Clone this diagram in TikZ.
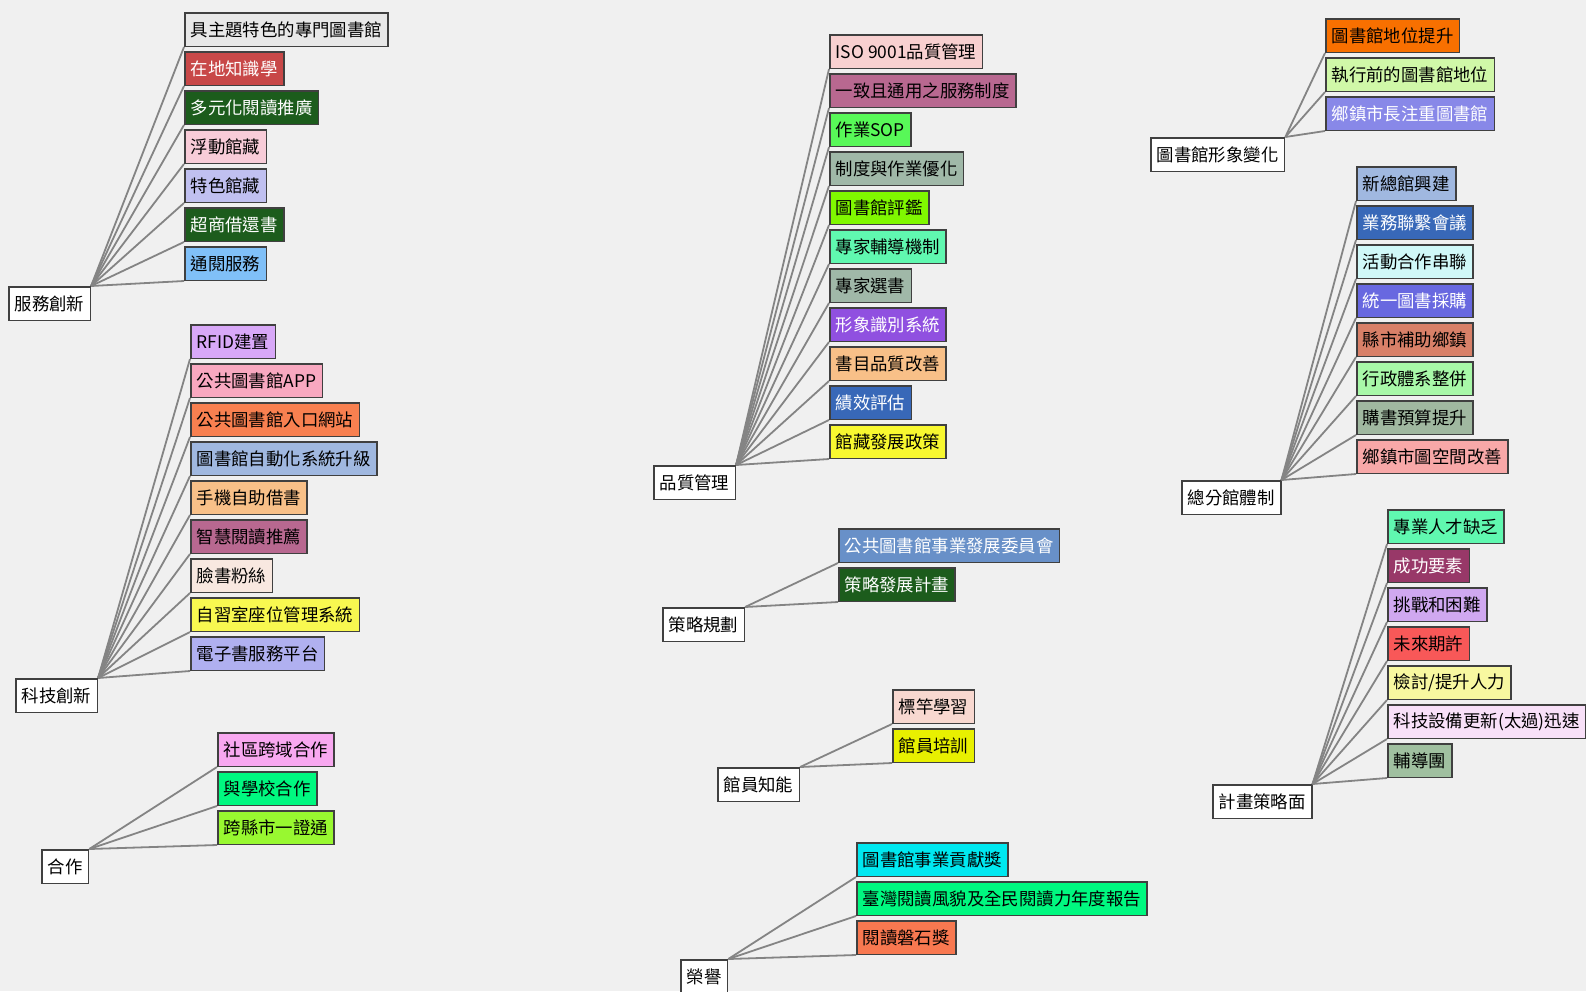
\documentclass[tikz,border=0pt]{standalone}
\usepackage{fontspec}
\usepackage{xcolor}
\usepackage{tikz}
\usetikzlibrary{positioning}
\newfontfamily\cjk{Noto Sans CJK TC}
\definecolor{pagebg}{HTML}{F0F0F0}
\definecolor{boxline}{HTML}{404040}
\definecolor{linkgray}{HTML}{848484}
\definecolor{greybox}{HTML}{E8E8E8}
\definecolor{brickred}{HTML}{C84848}
\definecolor{darkforest}{HTML}{1C5C1C}
\definecolor{blushpink}{HTML}{F8CCD8}
\definecolor{lavender}{HTML}{C0C0F0}
\definecolor{skyblue}{HTML}{80C0F8}
\definecolor{lilac}{HTML}{D8A8F8}
\definecolor{rosepink}{HTML}{F8A8C0}
\definecolor{coralorange}{HTML}{F88050}
\definecolor{steelblue}{HTML}{A0B8E0}
\definecolor{peach}{HTML}{F8C088}
\definecolor{mauve}{HTML}{B86890}
\definecolor{linen}{HTML}{F8E8E0}
\definecolor{lemon}{HTML}{F8F850}
\definecolor{periwinkle}{HTML}{B0B0F0}
\definecolor{orchid}{HTML}{F8A8F0}
\definecolor{springgreen}{HTML}{00F880}
\definecolor{limegreen}{HTML}{98F830}
\definecolor{palerose}{HTML}{F8D0D0}
\definecolor{mintgreen}{HTML}{58F858}
\definecolor{sage}{HTML}{A0B8A8}
\definecolor{chartreuse}{HTML}{80F800}
\definecolor{aquamarine}{HTML}{60F8B0}
\definecolor{amethyst}{HTML}{9050E0}
\definecolor{royalblue}{HTML}{3868B8}
\definecolor{canary}{HTML}{F8F830}
\definecolor{cornflower}{HTML}{6890C8}
\definecolor{shellpink}{HTML}{F8D8D0}
\definecolor{citron}{HTML}{E8F000}
\definecolor{aqua}{HTML}{00E8F0}
\definecolor{salmon}{HTML}{F87850}
\definecolor{tangerine}{HTML}{F87000}
\definecolor{palelime}{HTML}{D0F8A8}
\definecolor{slatepurple}{HTML}{8888E8}
\definecolor{icecyan}{HTML}{D0F8F8}
\definecolor{indigoblue}{HTML}{6868E0}
\definecolor{terracotta}{HTML}{D88068}
\definecolor{palegreen}{HTML}{A8F8A8}
\definecolor{greensage}{HTML}{A0B8A0}
\definecolor{pinksalmon}{HTML}{F8A8A8}
\definecolor{plum}{HTML}{983868}
\definecolor{thistle}{HTML}{D0A8F0}
\definecolor{tomato}{HTML}{F85858}
\definecolor{cream}{HTML}{F8F8A0}
\definecolor{blush}{HTML}{F8E0F8}
\definecolor{moss}{HTML}{A0C0A0}

\begin{document}
\begin{tikzpicture}[
  x=1pt,y=-1pt,
  topic/.style={draw=boxline,fill=white,line width=1.5pt,anchor=north west,minimum height=33.5pt,inner xsep=6pt,inner ysep=2pt,font=\cjk\fontsize{17.4pt}{19pt}\selectfont},
  item/.style={topic,fill=#1},
  itemw/.style={item=#1,text=white},
  under/.style={below=4pt of #1.south west,anchor=north west},
  link/.style={draw=linkgray,line width=1.8pt}
]
  \useasboundingbox (0,0) rectangle (1586,991);
  \clip (0,0) rectangle (1586,991);
  \fill[pagebg] (0,0) rectangle (1586,991);

  % 服務創新
  \node[topic] (svc) at (8,286) {服務創新};
  \node[item=greybox] (svc1) at (184,12) {具主題特色的專門圖書館};
  \node[itemw=brickred,under=svc1] (svc2) {在地知識學};
  \node[itemw=darkforest,under=svc2] (svc3) {多元化閱讀推廣};
  \node[item=blushpink,under=svc3] (svc4) {浮動館藏};
  \node[item=lavender,under=svc4] (svc5) {特色館藏};
  \node[itemw=darkforest,under=svc5] (svc6) {超商借還書};
  \node[item=skyblue,under=svc6] (svc7) {通閱服務};
  \draw[link](svc.north east)--(svc1.south west);\draw[link](svc.north east)--(svc2.south west);
  \draw[link](svc.north east)--(svc3.south west);\draw[link](svc.north east)--(svc4.south west);
  \draw[link](svc.north east)--(svc5.south west);\draw[link](svc.north east)--(svc6.south west);
  \draw[link](svc.north east)--(svc7.south west);

  % 科技創新
  \node[topic] (tech) at (15,678) {科技創新};
  \node[item=lilac] (tech1) at (190,324) {RFID建置};
  \node[item=rosepink,under=tech1] (tech2) {公共圖書館APP};
  \node[item=coralorange,under=tech2] (tech3) {公共圖書館入口網站};
  \node[item=steelblue,under=tech3] (tech4) {圖書館自動化系統升級};
  \node[item=peach,under=tech4] (tech5) {手機自助借書};
  \node[item=mauve,under=tech5] (tech6) {智慧閱讀推薦};
  \node[item=linen,under=tech6] (tech7) {臉書粉絲};
  \node[item=lemon,under=tech7] (tech8) {自習室座位管理系統};
  \node[item=periwinkle,under=tech8] (tech9) {電子書服務平台};
  \draw[link](tech.north east)--(tech1.south west);\draw[link](tech.north east)--(tech2.south west);
  \draw[link](tech.north east)--(tech3.south west);\draw[link](tech.north east)--(tech4.south west);
  \draw[link](tech.north east)--(tech5.south west);\draw[link](tech.north east)--(tech6.south west);
  \draw[link](tech.north east)--(tech7.south west);\draw[link](tech.north east)--(tech8.south west);
  \draw[link](tech.north east)--(tech9.south west);

  % 合作
  \node[topic] (coop) at (41,849) {合作};
  \node[item=orchid] (coop1) at (217,732) {社區跨域合作};
  \node[item=springgreen,under=coop1] (coop2) {與學校合作};
  \node[item=limegreen,under=coop2] (coop3) {跨縣市一證通};
  \draw[link](coop.north east)--(coop1.south west);\draw[link](coop.north east)--(coop2.south west);
  \draw[link](coop.north east)--(coop3.south west);

  % 品質管理
  \node[topic] (qual) at (653,465) {品質管理};
  \node[item=palerose] (qual1) at (829,34) {ISO 9001品質管理};
  \node[item=mauve,under=qual1] (qual2) {一致且通用之服務制度};
  \node[item=mintgreen,under=qual2] (qual3) {作業SOP};
  \node[item=sage,under=qual3] (qual4) {制度與作業優化};
  \node[item=chartreuse,under=qual4] (qual5) {圖書館評鑑};
  \node[item=aquamarine,under=qual5] (qual6) {專家輔導機制};
  \node[item=sage,under=qual6] (qual7) {專家選書};
  \node[itemw=amethyst,under=qual7] (qual8) {形象識別系統};
  \node[item=peach,under=qual8] (qual9) {書目品質改善};
  \node[itemw=royalblue,under=qual9] (qual10) {績效評估};
  \node[item=canary,under=qual10] (qual11) {館藏發展政策};
  \draw[link](qual.north east)--(qual1.south west);\draw[link](qual.north east)--(qual2.south west);
  \draw[link](qual.north east)--(qual3.south west);\draw[link](qual.north east)--(qual4.south west);
  \draw[link](qual.north east)--(qual5.south west);\draw[link](qual.north east)--(qual6.south west);
  \draw[link](qual.north east)--(qual7.south west);\draw[link](qual.north east)--(qual8.south west);
  \draw[link](qual.north east)--(qual9.south west);\draw[link](qual.north east)--(qual10.south west);
  \draw[link](qual.north east)--(qual11.south west);

  % 策略規劃
  \node[topic] (plan) at (662,607) {策略規劃};
  \node[itemw=cornflower] (plan1) at (838,528) {公共圖書館事業發展委員會};
  \node[itemw=darkforest,under=plan1] (plan2) {策略發展計畫};
  \draw[link](plan.north east)--(plan1.south west);\draw[link](plan.north east)--(plan2.south west);

  % 館員知能
  \node[topic] (staff) at (717,767) {館員知能};
  \node[item=shellpink] (staff1) at (892,689) {標竿學習};
  \node[item=citron,under=staff1] (staff2) {館員培訓};
  \draw[link](staff.north east)--(staff1.south west);\draw[link](staff.north east)--(staff2.south west);

  % 榮譽
  \node[topic] (honor) at (680,959) {榮譽};
  \node[item=aqua] (honor1) at (856,842) {圖書館事業貢獻獎};
  \node[item=springgreen,under=honor1] (honor2) {臺灣閱讀風貌及全民閱讀力年度報告};
  \node[item=salmon,under=honor2] (honor3) {閱讀磐石獎};
  \draw[link](honor.north east)--(honor1.south west);\draw[link](honor.north east)--(honor2.south west);
  \draw[link](honor.north east)--(honor3.south west);

  % 圖書館形象變化
  \node[topic] (image) at (1150,137) {圖書館形象變化};
  \node[item=tangerine] (image1) at (1325,18) {圖書館地位提升};
  \node[item=palelime,under=image1] (image2) {執行前的圖書館地位};
  \node[itemw=slatepurple,under=image2] (image3) {鄉鎮市長注重圖書館};
  \draw[link](image.north east)--(image1.south west);\draw[link](image.north east)--(image2.south west);
  \draw[link](image.north east)--(image3.south west);

  % 總分館體制
  \node[topic] (branch) at (1181,480) {總分館體制};
  \node[item=steelblue] (branch1) at (1356,166) {新總館興建};
  \node[itemw=royalblue,under=branch1] (branch2) {業務聯繫會議};
  \node[item=icecyan,under=branch2] (branch3) {活動合作串聯};
  \node[itemw=indigoblue,under=branch3] (branch4) {統一圖書採購};
  \node[item=terracotta,under=branch4] (branch5) {縣市補助鄉鎮};
  \node[item=palegreen,under=branch5] (branch6) {行政體系整併};
  \node[item=greensage,under=branch6] (branch7) {購書預算提升};
  \node[item=pinksalmon,under=branch7] (branch8) {鄉鎮市圖空間改善};
  \draw[link](branch.north east)--(branch1.south west);\draw[link](branch.north east)--(branch2.south west);
  \draw[link](branch.north east)--(branch3.south west);\draw[link](branch.north east)--(branch4.south west);
  \draw[link](branch.north east)--(branch5.south west);\draw[link](branch.north east)--(branch6.south west);
  \draw[link](branch.north east)--(branch7.south west);\draw[link](branch.north east)--(branch8.south west);

  % 計畫策略面
  \node[topic] (proj) at (1212,784) {計畫策略面};
  \node[item=aquamarine] (proj1) at (1387,509) {專業人才缺乏};
  \node[itemw=plum,under=proj1] (proj2) {成功要素};
  \node[item=thistle,under=proj2] (proj3) {挑戰和困難};
  \node[item=tomato,under=proj3] (proj4) {未來期許};
  \node[item=cream,under=proj4] (proj5) {檢討/提升人力};
  \node[item=blush,under=proj5] (proj6) {科技設備更新(太過)迅速};
  \node[item=moss,under=proj6] (proj7) {輔導團};
  \draw[link](proj.north east)--(proj1.south west);\draw[link](proj.north east)--(proj2.south west);
  \draw[link](proj.north east)--(proj3.south west);\draw[link](proj.north east)--(proj4.south west);
  \draw[link](proj.north east)--(proj5.south west);\draw[link](proj.north east)--(proj6.south west);
  \draw[link](proj.north east)--(proj7.south west);
\end{tikzpicture}
\end{document}
